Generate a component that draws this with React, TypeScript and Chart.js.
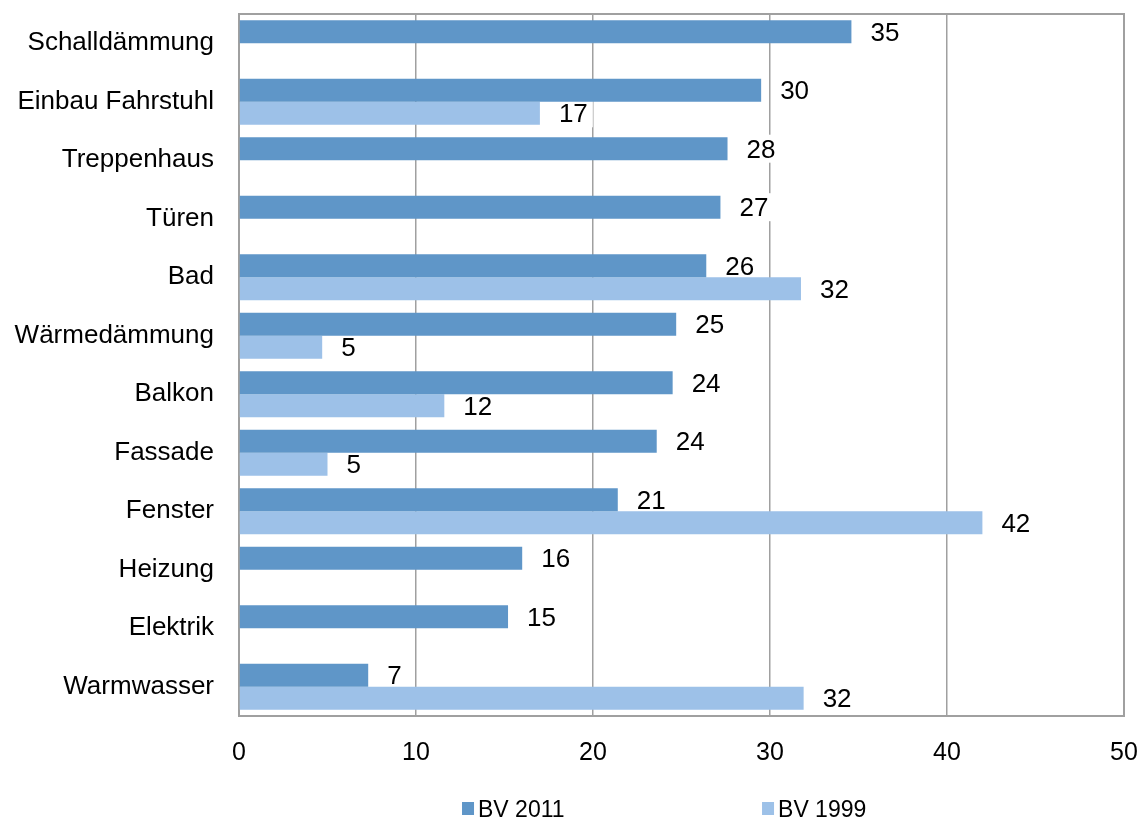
import React, { useEffect, useRef } from "react";
import { Chart, registerables } from "chart.js";

Chart.register(...registerables);

const categories = [
  "Schalldämmung",
  "Einbau Fahrstuhl",
  "Treppenhaus",
  "Türen",
  "Bad",
  "Wärmedämmung",
  "Balkon",
  "Fassade",
  "Fenster",
  "Heizung",
  "Elektrik",
  "Warmwasser",
];

const seriesNames = ["BV 2011", "BV 1999"];

const values2011 = [34.6, 29.5, 27.6, 27.2, 26.4, 24.7, 24.5, 23.6, 21.4, 16.0, 15.2, 7.3];
const values1999: (number | null)[] = [null, 17.0, null, null, 31.75, 4.7, 11.6, 5.0, 42.0, null, null, 31.9];

const labels2011 = ["35", "30", "28", "27", "26", "25", "24", "24", "21", "16", "15", "7"];
const labels1999 = ["", "17", "", "", "32", "5", "12", "5", "42", "", "", "32"];

const xTicks = [0, 10, 20, 30, 40, 50];

const colors = ["#5F96C8", "#9DC1E8"];

const FONT = "'Liberation Sans', Arial, sans-serif";

export default function App() {
  const ref = useRef<HTMLCanvasElement | null>(null);

  useEffect(() => {
    if (!ref.current) return;
    const labelSets = [labels2011, labels1999];

    const labelPlugin = {
      id: "valueLabels",
      beforeDatasetsDraw(chart: any) {
        const ctx = chart.ctx;
        const a = chart.chartArea;
        ctx.save();
        ctx.strokeStyle = "#a0a0a0";
        ctx.lineWidth = 2;
        ctx.strokeRect(a.left, a.top, a.right - a.left, a.bottom - a.top);
        ctx.font = `26px ${FONT}`;
        chart.data.datasets.forEach((ds: any, di: number) => {
          const meta = chart.getDatasetMeta(di);
          meta.data.forEach((el: any, i: number) => {
            const t = labelSets[di][i];
            if (!t || ds.data[i] == null) return;
            const w = ctx.measureText(t).width;
            ctx.fillStyle = "#ffffff";
            ctx.fillRect(el.x + 14, el.y - 14, w + 10, 28);
          });
        });
        ctx.restore();
      },
      afterDatasetsDraw(chart: any) {
        const ctx = chart.ctx;
        ctx.save();
        ctx.font = `26px ${FONT}`;
        ctx.fillStyle = "#000000";
        ctx.textAlign = "left";
        ctx.textBaseline = "middle";
        chart.data.datasets.forEach((ds: any, di: number) => {
          const meta = chart.getDatasetMeta(di);
          meta.data.forEach((el: any, i: number) => {
            const t = labelSets[di][i];
            if (!t || ds.data[i] == null) return;
            ctx.fillText(t, el.x + 19, el.y + 2);
          });
        });
        ctx.restore();
      },
      afterDraw(chart: any) {
        const ctx = chart.ctx;
        const a = chart.chartArea;
        const w = a.right - a.left;
        const positions = [0.252, 0.591];
        ctx.save();
        ctx.font = `23px ${FONT}`;
        ctx.textBaseline = "middle";
        ctx.textAlign = "left";
        seriesNames.forEach((n, i) => {
          const x = a.left + w * positions[i];
          const y = 809;
          ctx.fillStyle = colors[i];
          ctx.fillRect(x, y - 7, 12, 13);
          ctx.fillStyle = "#000000";
          ctx.fillText(n, x + 16, y + 2);
        });
        ctx.restore();
      },
    };

    const zeroPad = (axis: any) => {
      axis.paddingTop = 0;
      axis.paddingBottom = 0;
      axis.paddingLeft = 0;
      axis.paddingRight = 0;
    };

    const chart = new Chart(ref.current, {
      type: "bar",
      data: {
        labels: categories,
        datasets: [
          {
            label: seriesNames[0],
            data: values2011,
            backgroundColor: colors[0],
            categoryPercentage: 0.79,
            barPercentage: 1,
          },
          {
            label: seriesNames[1],
            data: values1999,
            backgroundColor: colors[1],
            categoryPercentage: 0.79,
            barPercentage: 1,
          },
        ],
      },
      options: {
        indexAxis: "y",
        animation: false,
        responsive: false,
        maintainAspectRatio: false,
        layout: { padding: { top: 14, right: 17, left: 0, bottom: 0 } },
        plugins: {
          legend: { display: false },
          tooltip: { enabled: false },
        },
        scales: {
          x: {
            min: 0,
            max: 50,
            afterBuildTicks: (axis: any) => {
              axis.ticks = xTicks.map((v) => ({ value: v }));
            },
            afterFit: (axis: any) => {
              axis.height = 105;
              zeroPad(axis);
            },
            grid: {
              color: "#a0a0a0",
              lineWidth: 1.5,
              drawTicks: false,
            },
            border: { color: "#a0a0a0", width: 2 },
            ticks: {
              padding: 22,
              color: "#000000",
              font: { family: FONT, size: 25 },
            },
          },
          y: {
            afterFit: (axis: any) => {
              axis.width = 239;
              zeroPad(axis);
            },
            grid: { display: false, drawTicks: false },
            border: { color: "#a0a0a0", width: 2 },
            ticks: {
              padding: 25,
              color: "#000000",
              font: { family: FONT, size: 26 },
            },
          },
        },
      },
      plugins: [labelPlugin],
    } as any);

    return () => chart.destroy();
  }, []);

  return (
    <div style={{ position: "absolute", left: 0, top: 0, width: 1141, height: 821 }}>
      <canvas ref={ref} width={1141} height={821} style={{ width: 1141, height: 821 }} />
    </div>
  );
}
